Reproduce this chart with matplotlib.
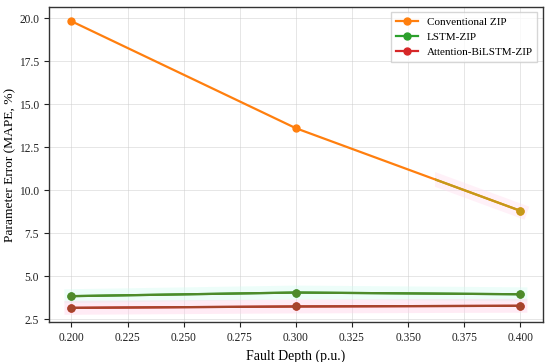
import matplotlib
matplotlib.use("Agg")
import matplotlib.pyplot as plt
from matplotlib.patches import Rectangle

plt.rcParams['font.family'] = ['Liberation Serif', 'DejaVu Serif']

depth = [0.2, 0.3, 0.4]
conv_zip = [19.82, 13.6, 8.8]
lstm_zip = [3.84, 4.05, 3.95]
att_zip = [3.16, 3.24, 3.28]

names = ['Conventional ZIP', 'LSTM-ZIP', 'Attention-BiLSTM-ZIP']
colors = ['#ff7f0e', '#2ca02c', '#d62728']
tints = ['#c49a1a', '#4f8a2a', '#a5452c']
glows = ['#ffdcef', '#d2fcf2', '#ffcfe6']

fig, ax = plt.subplots(figsize=(5.5, 3.62), dpi=100)
fig.subplots_adjust(left=0.089, right=0.987, top=0.981, bottom=0.11)

series = [conv_zip, lstm_zip, att_zip]
for vals, name, c, t, g in zip(series, names, colors, tints, glows):
    ax.plot(depth, vals, color=c, lw=1.6, marker='o', ms=5, label=name, zorder=3)
    # soft glow band around each line
    glow, = ax.plot(depth, vals, color=g, lw=10, alpha=0.4,
                    solid_capstyle='projecting', zorder=2)
    if name == 'Conventional ZIP':
        # only the tail of this line is tinted in the original
        tint, = ax.plot(depth, vals, color=t, lw=1.6, marker='o', ms=5, zorder=4)
        tint.set_clip_path(Rectangle((0.362, 0), 0.06, 30, transform=ax.transData))
        glow.set_clip_path(Rectangle((0.362, 0), 0.06, 30, transform=ax.transData))
    else:
        ax.plot(depth, vals, color=t, lw=1.6, marker='o', ms=5, zorder=4)

ax.set_xlabel('Fault Depth (p.u.)', fontsize=10)
ax.set_ylabel('Parameter Error (MAPE, %)', fontsize=9.7, labelpad=2)
ax.tick_params(labelsize=8.3, length=3.5, width=0.8, colors='#222222')
ax.grid(True, color='#cccccc', alpha=0.5, lw=0.7)
ax.set_axisbelow(True)
for s in ax.spines.values():
    s.set_color('#333333')
    s.set_linewidth(1.0)

leg = ax.legend(loc='upper right', fontsize=8, frameon=True, fancybox=False)
leg.get_frame().set_edgecolor('#cccccc')

fig.savefig('out.png', dpi=100)
